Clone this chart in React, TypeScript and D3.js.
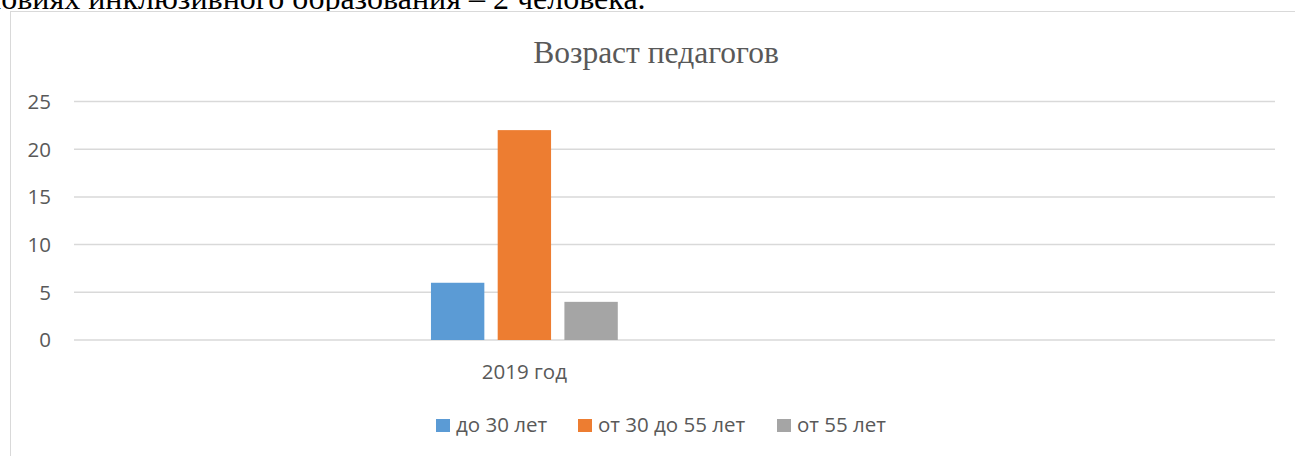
import * as d3 from 'd3';
import React from 'react';

// categories: only the second slot carries data, as in the original workbook
const categories = ['', '2019 год', '', ''];
const seriesNames = ['до 30 лет', 'от 30 до 55 лет', 'от 55 лет'];
const under30 = [null, 6, null, null];
const from30to55 = [null, 22, null, null];
const over55 = [null, 4, null, null];
const yTicks = [0, 5, 10, 15, 20, 25];

const seriesValues = [under30, from30to55, over55];
const colors = ['#5B9BD5', '#ED7D31', '#A5A5A5'];

const W = 1295;
const H = 456;
const plot = { left: 74, right: 1275, top: 101.5, bottom: 340 };
const labelFont = '"Open Sans", Lato, sans-serif';
const labelSize = 20.5;
const textColor = '#595959';

export default function App() {
  const x0 = d3
    .scaleBand<number>()
    .domain(categories.map((_, i) => i))
    .range([plot.left, plot.right]);

  const x1 = d3
    .scaleBand<string>()
    .domain(seriesNames)
    .range([0, x0.bandwidth()])
    .paddingInner(0.2)
    .paddingOuter(0.85);

  const y = d3.scaleLinear().domain([0, 25]).range([plot.bottom, plot.top]);

  // legend layout
  const legendX = [436, 578, 777];

  return (
    <svg
      width={W}
      height={H}
      style={{ position: 'fixed', left: 0, top: 0, background: '#fff' }}
    >
      {/* text from the document page above the chart */}
      <text
        x={-45}
        y={9}
        fontFamily='"Liberation Serif", "Times New Roman", serif'
        fontSize={32}
        fill="#000"
      >
        условиях инклюзивного образования – 2 человека.
      </text>

      {/* chart frame */}
      <rect x={10.5} y={11.5} width={1300} height={460} fill="#fff" stroke="#d9d9d9" strokeWidth={1} />

      <text
        x={656}
        y={63}
        textAnchor="middle"
        fontFamily='"Liberation Serif", "Times New Roman", serif'
        fontSize={31.5}
        fill={textColor}
      >
        Возраст педагогов
      </text>

      {/* gridlines + y labels */}
      {yTicks.map((t) => (
        <g key={t}>
          <line
            x1={plot.left}
            x2={plot.right}
            y1={y(t)}
            y2={y(t)}
            stroke="#d9d9d9"
            strokeWidth={1.5}
          />
          <text
            x={51}
            y={y(t)}
            dy="0.36em"
            textAnchor="end"
            fontFamily={labelFont}
            fontSize={labelSize}
            fill={textColor}
          >
            {t}
          </text>
        </g>
      ))}

      {/* bars */}
      {categories.map((c, i) => (
        <g key={i} transform={`translate(${x0(i)},0)`}>
          {seriesNames.map((s, k) => {
            const v = seriesValues[k][i];
            if (v == null) return null;
            return (
              <rect
                key={s}
                x={x1(s)}
                y={y(v)}
                width={x1.bandwidth()}
                height={y(0) - y(v)}
                fill={colors[k]}
              />
            );
          })}
          {c && (
            <text
              x={x0.bandwidth() / 2}
              y={379}
              textAnchor="middle"
              fontFamily={labelFont}
              fontSize={labelSize}
              fill={textColor}
            >
              {c}
            </text>
          )}
        </g>
      ))}

      {/* legend */}
      {seriesNames.map((s, k) => (
        <g key={s} transform={`translate(${legendX[k]},0)`}>
          <rect x={0} y={419} width={14} height={13} fill={colors[k]} />
          <text x={20} y={432} fontFamily={labelFont} fontSize={labelSize} fill={textColor}>
            {s}
          </text>
        </g>
      ))}
    </svg>
  );
}
